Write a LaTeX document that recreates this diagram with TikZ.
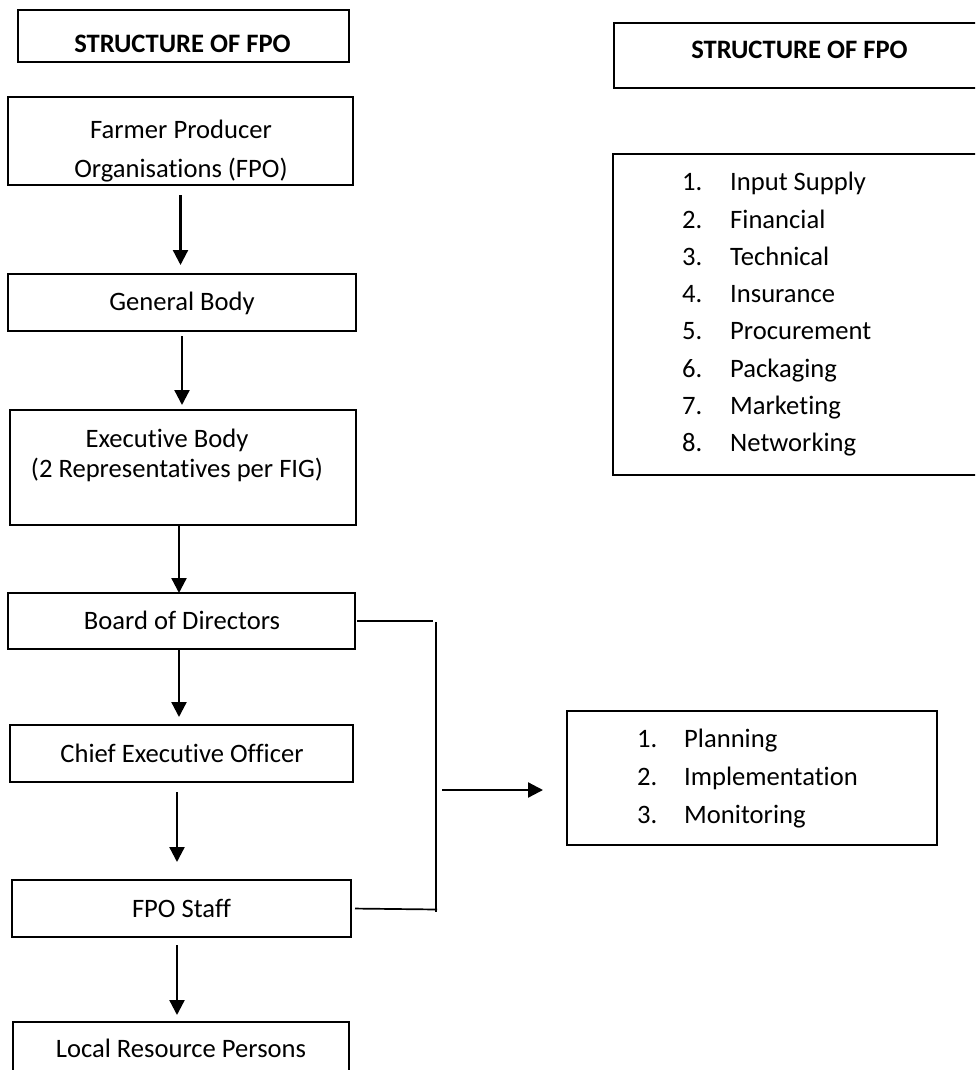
\documentclass[tikz,border=0pt]{standalone}
\usepackage{fontspec}
\setmainfont{Carlito}[Ligatures={NoCommon}]
\usetikzlibrary{arrows.meta}
\begin{document}
\begin{tikzpicture}[x=1pt,y=-1pt,
  box/.style={draw, line width=1.5pt, inner sep=0pt, outer sep=0pt},
  txt/.style={anchor=base, inner sep=0pt, font=\fontsize{26.6}{32}\selectfont},
  btxt/.style={anchor=base, inner sep=0pt, font=\fontsize{26.6}{32}\selectfont\bfseries},
  ltxt/.style={anchor=base west, inner sep=0pt, font=\fontsize{26.6}{32}\selectfont},
  arr/.style={line width=2.3pt, -{Triangle[length=15pt,width=15pt]}},
  conn/.style={line width=1.7pt}]
\useasboundingbox (0,0) rectangle (975,1070);
\clip (0,0) rectangle (975,1070);

% left title
\node[box, minimum width=331pt, minimum height=52pt] (ttl) at (183.5,36) {};
\node[btxt] (ttlt) at (182.5,53) {STRUCTURE OF FPO};

% right title
\node[box, minimum width=386pt, minimum height=65pt] (ttr) at (807,55.5) {};
\node[btxt] (ttrt) at (799.5,59) {STRUCTURE OF FPO};

% right list of services
\node[box, minimum width=387pt, minimum height=321pt] (svc) at (806.5,314.5) {};
\foreach \n/\t [count=\i from 0] in {1/Input Supply,2/Financial,3/Technical,4/Insurance,5/Procurement,6/Packaging,7/Marketing,8/Networking}{
  \node[ltxt] (sn\n) at (682,190.7+37.3*\i) {\n.};
  \node[ltxt] (st\n) at (730,190.7+37.3*\i) {\t};
}

% chain
\node[box, minimum width=345pt, minimum height=88pt] (fpo) at (180.5,141) {};
\node[txt] (fpo1) at (181,139) {Farmer Producer};
\node[txt] (fpo2) at (181,177) {Organisations (FPO)};

\node[box, minimum width=348pt, minimum height=57pt] (gb) at (182,302.5) {};
\node[txt] (gbt) at (182,310) {General Body};

\node[box, minimum width=346pt, minimum height=115pt] (eb) at (183,467.5) {};
\node[txt] (eb1) at (167,447) {Executive Body};
\node[txt] (eb2) at (177,477) {(2 Representatives per FIG)};

\node[box, minimum width=347pt, minimum height=56pt] (bod) at (181.5,621) {};
\node[txt] (bodt) at (182,629) {Board of Directors};

\node[box, minimum width=343pt, minimum height=57pt] (ceo) at (181.5,753.5) {};
\node[txt] (ceot) at (182,762) {Chief Executive Officer};

\node[box, minimum width=339pt, minimum height=57pt] (stf) at (181.5,908.5) {};
\node[txt] (stft) at (181.5,917) {FPO Staff};

\node[box, minimum width=336pt, minimum height=78pt] (lrp) at (181,1061) {};
\node[txt] (lrpt) at (181,1057) {Local Resource Persons};

% right functions box
\node[box, minimum width=370pt, minimum height=134pt] (pim) at (752,778) {};
\foreach \n/\t [count=\i from 0] in {1/Planning,2/Implementation,3/Monitoring}{
  \node[ltxt] (pn\n) at (637,747+38*\i) {\n.};
  \node[ltxt] (pt\n) at (684,747+38*\i) {\t};
}

% vertical arrows
\draw[arr, shorten <=10pt, shorten >=9pt] (fpo.south) -- (fpo.south |- gb.north);
\draw[arr, shorten <=5pt, shorten >=5pt] (gb.south) -- (gb.south |- eb.north);
\draw[arr] ([xshift=-4pt]eb.south) -- ([xshift=-4pt]eb.south |- bod.north);
\draw[arr, shorten >=8pt] ([xshift=-2.5pt]bod.south) -- ([xshift=-2.5pt]bod.south |- ceo.north);
\draw[arr, shorten <=10pt, shorten >=18pt] ([xshift=-4.5pt]ceo.south) -- ([xshift=-4.5pt]ceo.south |- stf.north);
\draw[arr, shorten <=8pt, shorten >=7pt] ([xshift=-4.5pt]stf.south) -- ([xshift=-4.5pt]stf.south |- lrp.north);

% bracket connector
\coordinate (jt) at (433,621);
\coordinate (vt) at (436,622);
\coordinate (vb) at (436,912);
\coordinate (jb) at (437,909.5);
\coordinate (hs) at (442,790);
\draw[conn, shorten <=2pt] (bod.east) -- (jt);
\draw[conn] (vt) -- (vb);
\draw[conn, shorten <=4pt] (stf.east) -- (jb);
\draw[arr, shorten >=24pt] (hs) -- (hs -| pim.west);
\end{tikzpicture}
\end{document}
